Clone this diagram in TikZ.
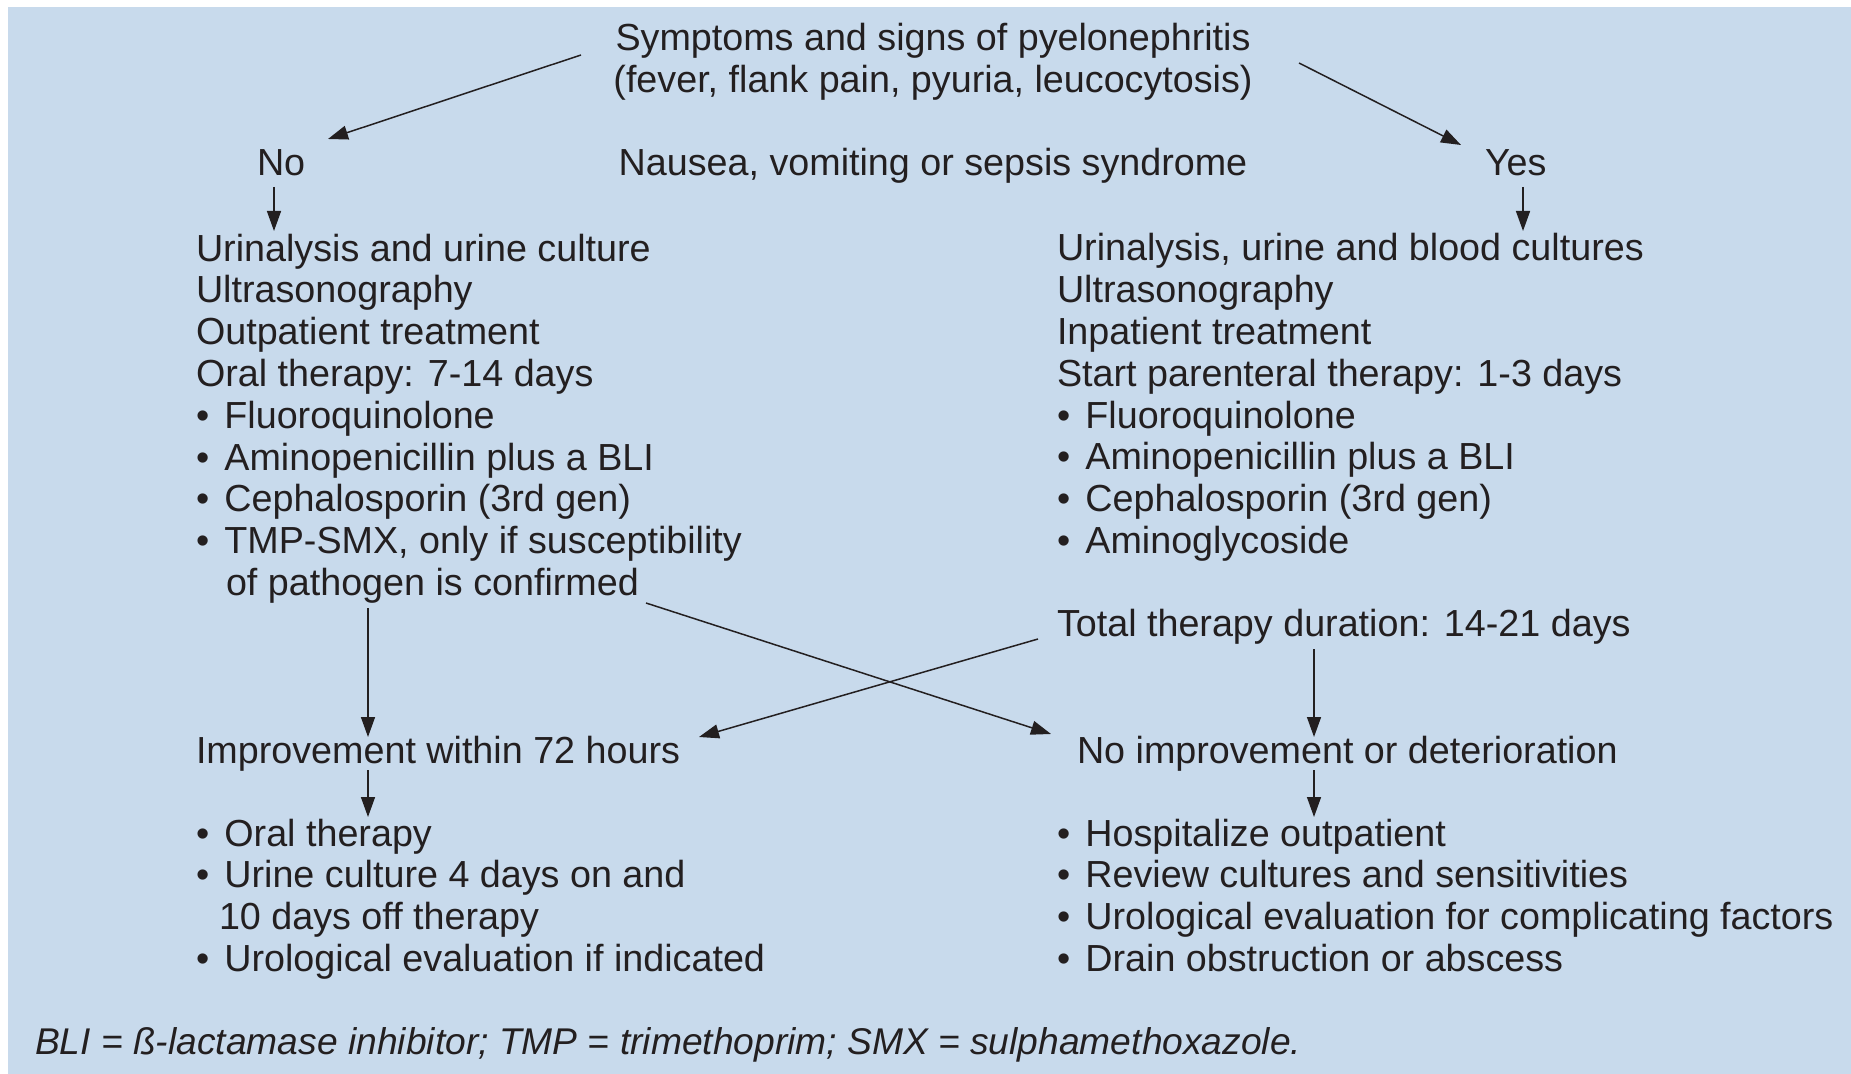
\documentclass[tikz,border=0pt]{standalone}
\usepackage{fontspec}
\setmainfont{Liberation Sans}
\usetikzlibrary{arrows.meta,calc}
\definecolor{bg}{RGB}{200,218,236}
\definecolor{ink}{RGB}{35,31,32}
\newcommand\fs{\fontsize{18.85pt}{20.9pt}\selectfont}
\newcommand\tstrut{\rule{0pt}{14pt}}
\newcommand\bul{•\hspace{7.6pt}}
\tikzset{
  txt/.style={inner sep=0pt, outer sep=0pt, align=left, font=\fs, text=ink, anchor=north west},
  arr/.style={draw=ink, line width=0.75pt, -{Triangle[length=10pt,width=7pt]}}
}
\begin{document}
\begin{tikzpicture}[x=0.5pt,y=-0.5pt]
\useasboundingbox (0,0) rectangle (1851,1074);
\fill[white] (0,0) rectangle (1851,1074);
\fill[bg] (8,7) rectangle (1851,1074);

\node[txt,align=center,anchor=north] (top) at (933,23) {\tstrut Symptoms and signs of pyelonephritis\\(fever, flank pain, pyuria, leucocytosis)};
\node[txt] (no) at (257,148) {\tstrut No};
\node[txt,anchor=north] (q) at (933,148) {\tstrut Nausea, vomiting or sepsis syndrome};
\node[txt] (yes) at (1485,148) {\tstrut Yes};

\node[txt] (lb) at (196,233) {\tstrut Urinalysis and urine culture\\Ultrasonography\\Outpatient treatment\\Oral therapy: 7-14 days\\\bul Fluoroquinolone\\\bul Aminopenicillin plus a BLI\\\bul Cephalosporin (3rd gen)\\\bul TMP-SMX, only if susceptibility\\\phantom{\bul}\hspace*{0.8pt}of pathogen is confirmed};
\node[txt] (rb) at (1057,233) {\tstrut Urinalysis, urine and blood cultures\\Ultrasonography\\Inpatient treatment\\Start parenteral therapy: 1-3 days\\\bul Fluoroquinolone\\\bul Aminopenicillin plus a BLI\\\bul Cephalosporin (3rd gen)\\\bul Aminoglycoside};
\node[txt] (total) at (1057,608) {\tstrut Total therapy duration: 14-21 days};

\node[txt] (impr) at (196,735) {\tstrut Improvement within 72 hours};
\node[txt] (noimpr) at (1077,735) {\tstrut No improvement or deterioration};

\node[txt] (lbot) at (196,818) {\tstrut \bul Oral therapy\\\bul Urine culture 4 days on and\\\hspace*{11.5pt}10 days off therapy\\\bul Urological evaluation if indicated};
\node[txt] (rbot) at (1057,818) {\tstrut \bul Hospitalize outpatient\\\bul Review cultures and sensitivities\\\bul Urological evaluation for complicating factors\\\bul Drain obstruction or abscess};

\node[txt,font=\fontsize{18.6pt}{20.9pt}\selectfont\itshape] (legend) at (35,1026) {\tstrut BLI = ß-lactamase inhibitor; TMP = trimethoprim; SMX = sulphamethoxazole.};

\draw[arr] ($(top.north)+(-352,32)$) -- ($(no.north west)+(71,-9)$);
\draw[arr] ($(top.north)+(366,40)$) -- ($(yes.north west)+(-24,-3)$);
\draw[arr] ($(no.north west)+(17,39)$) -- ($(lb.north west)+(78,-2)$);
\draw[arr] ($(yes.north west)+(38,39)$) -- ($(rb.north west)+(466,-2)$);
\draw[arr] ($(lb.north west)+(172,375)$) -- ($(impr.north west)+(172,2)$);
\draw[arr] ($(lb.north west)+(450,370)$) -- ($(noimpr.north west)+(-26,-1)$);
\draw[arr] ($(total.north west)+(-19,31)$) -- ($(impr.north west)+(503,2)$);
\draw[arr] ($(total.north west)+(257,41)$) -- ($(noimpr.north west)+(237,2)$);
\draw[arr] ($(impr.north west)+(172,35)$) -- ($(lbot.north west)+(172,-1)$);
\draw[arr] ($(noimpr.north west)+(237,35)$) -- ($(rbot.north west)+(257,-1)$);
\end{tikzpicture}
\end{document}
